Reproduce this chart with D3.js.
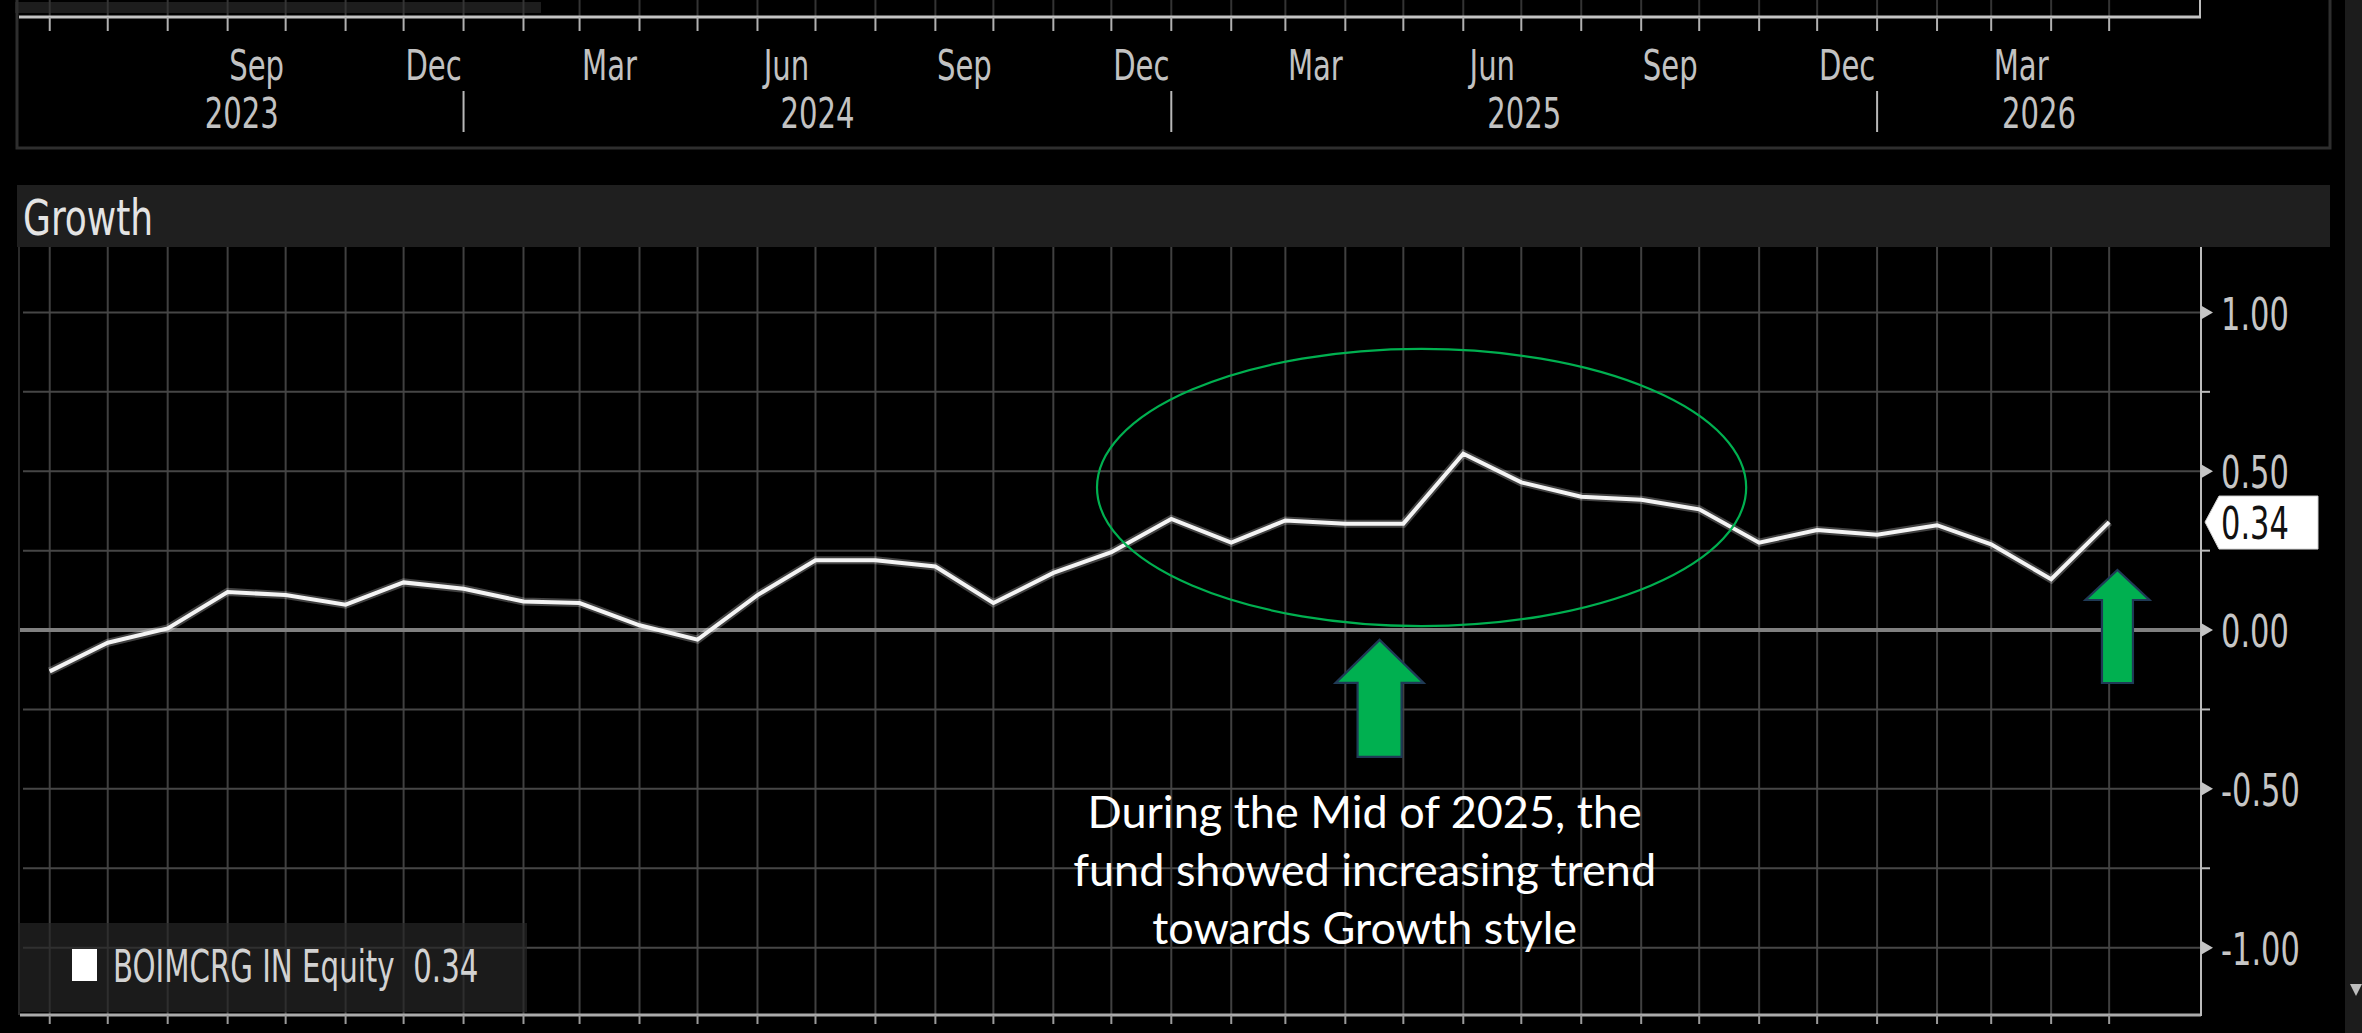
<!DOCTYPE html>
<html>
<head>
<meta charset="utf-8">
<script src="https://cdn.jsdelivr.net/npm/d3@7"></script>
<style>
html,body{margin:0;padding:0;background:#000;overflow:hidden;}
svg{display:block;}
.bb{font-family:"Liberation Sans Narrow","Arial Narrow","DejaVu Sans Condensed",sans-serif;}
.note{font-family:Lato,"Open Sans",sans-serif;}
</style>
</head>
<body>
<svg id="chart" width="2362" height="1033"></svg>
<script>
// ---------------- DATA ----------------
const dates = [
  "2023-06-01","2023-07-01","2023-08-01","2023-09-01","2023-10-01","2023-11-01","2023-12-01",
  "2024-01-01","2024-02-01","2024-03-01","2024-04-01","2024-05-01","2024-06-01","2024-07-01",
  "2024-08-01","2024-09-01","2024-10-01","2024-11-01","2024-12-01","2025-01-01","2025-02-01",
  "2025-03-01","2025-04-01","2025-05-01","2025-06-01","2025-07-01","2025-08-01","2025-09-01",
  "2025-10-01","2025-11-01","2025-12-01","2026-01-01","2026-02-01","2026-03-01","2026-04-01",
  "2026-05-01"
];
const growth = [
  -0.13, -0.04, 0.005, 0.12, 0.11, 0.08, 0.15,
   0.13,  0.09, 0.085, 0.015, -0.03, 0.11, 0.22,
   0.22,  0.20, 0.085, 0.18, 0.245, 0.35, 0.275,
   0.345, 0.335, 0.335, 0.555, 0.465, 0.42, 0.41,
   0.38,  0.275, 0.315, 0.30, 0.33, 0.27, 0.16,
   0.34
];
const yGridValues  = [-1, -0.75, -0.5, -0.25, 0, 0.25, 0.5, 0.75, 1];
const yLabelValues = [-1, -0.5, 0, 0.5, 1];
const monthLabelDates = ["2023-09-01","2023-12-01","2024-03-01","2024-06-01","2024-09-01",
  "2024-12-01","2025-03-01","2025-06-01","2025-09-01","2025-12-01","2026-03-01"];
const yearLabels = ["2023","2024","2025","2026"];
const panelTitle = "Growth";
const seriesName = "BOIMCRG IN Equity";
const noteLines = ["During the Mid of 2025, the","fund showed increasing trend","towards Growth style"];
// annotation anchors in data space
const ellipseDates = ["2024-11-23T14:00:00Z","2025-10-25T07:00:00Z"];
const ellipseValues = [0.885, 0.0126];
const arrowTips = [
  {date:"2025-04-18T17:00:00Z", value:-0.031, headHalf:44, shaftHalf:22, headLen:43, len:117},
  {date:"2026-05-05T07:00:00Z", value:0.189, headHalf:32, shaftHalf:15.5, headLen:30, len:113}
];
const noteAnchor = {date:"2025-04-11T00:00:00Z", value:-0.622};

// ---------------- SETUP ----------------
const W = 2362, H = 1033;
const plot = {left:20, right:2201, top:247, bottom:1015};
const parse = d3.utcParse("%Y-%m-%d");
const series = dates.map((d,i)=>({date:parse(d), v:growth[i]}));
const lastDate = series[series.length-1].date;
const lastVal = series[series.length-1].v;

const x = d3.scaleUtc()
  .domain([new Date(Date.UTC(2023,4,16,15)), new Date(Date.UTC(2026,5,17,12))])
  .range([plot.left, plot.right]);
const y = d3.scaleLinear().domain([-1.212, 1.206]).range([plot.bottom, plot.top]);

const months = d3.utcMonth.range(d3.utcMonth.ceil(x.domain()[0]), d3.utcDay.offset(lastDate,1));
const fmt2 = d3.formatLocale({decimal:".", thousands:",", grouping:[3], currency:["",""], minus:"-"}).format(".2f");
const SX = 0.77; // condense factor for terminal font

const svg = d3.select("#chart");
svg.append("rect").attr("width",W).attr("height",H).attr("fill","#000");

function ctext(parent, px, py, str, size, anchor, fill, base, sx){
  const g = parent.append("g").attr("transform",`translate(${px},${py}) scale(${sx||SX},1)`);
  const t = g.append("text").attr("class","bb").attr("x",0).attr("y",0)
    .attr("font-size",size).attr("text-anchor",anchor||"start").attr("fill",fill)
    .text(str);
  if(base) t.attr("dominant-baseline",base);
  return t;
}

// ---------------- TOP (cut-off) PANEL ----------------
const topG = svg.append("g");
topG.append("rect").attr("x",15).attr("y",2).attr("width",526).attr("height",11).attr("fill","#1d1d1d");
topG.selectAll("line.tg").data(months).join("line")
  .attr("x1",d=>x(d)).attr("x2",d=>x(d)).attr("y1",0).attr("y2",16)
  .attr("stroke","#343434").attr("stroke-width",2);
topG.append("line").attr("x1",2200).attr("x2",2200).attr("y1",0).attr("y2",17)
  .attr("stroke","#bdbdbd").attr("stroke-width",2);
topG.append("line").attr("x1",19).attr("x2",2201).attr("y1",17).attr("y2",17)
  .attr("stroke","#c4c4c4").attr("stroke-width",3);
topG.selectAll("line.tt").data(months).join("line")
  .attr("x1",d=>x(d)).attr("x2",d=>x(d)).attr("y1",17).attr("y2",31)
  .attr("stroke","#b0b0b0").attr("stroke-width",2);
monthLabelDates.forEach(s=>{
  const d0 = parse(s), d1 = d3.utcMonth.offset(d0,1);
  ctext(topG, (x(d0)+x(d1))/2, 80, d3.utcFormat("%b")(d0), 42, "middle", "#c2c2c2");
});
const years = yearLabels.map(s=>+s);
years.forEach(yr=>{
  const a = Math.max(x(new Date(Date.UTC(yr,0,1))), plot.left);
  const b = Math.min(x(new Date(Date.UTC(yr+1,0,1))), plot.right);
  ctext(topG, (a+b)/2, 128, String(yr), 42, "middle", "#c2c2c2");
  if (yr>years[0]) {
    topG.append("line").attr("x1",a).attr("x2",a).attr("y1",91).attr("y2",132)
      .attr("stroke","#b8b8b8").attr("stroke-width",2);
  }
});
topG.append("path").attr("d","M17,0 V148 H2330 V0").attr("fill","none")
  .attr("stroke","#2e2e2e").attr("stroke-width",3);

// ---------------- TITLE BAR ----------------
svg.append("rect").attr("x",17).attr("y",185).attr("width",2313).attr("height",62).attr("fill","#1f1f1f");
ctext(svg, 23, 235, panelTitle, 50, "start", "#e4e4e4", null, 0.8);

// ---------------- PLOT ----------------
const pg = svg.append("g");
pg.selectAll("line.vg").data(months).join("line")
  .attr("x1",d=>x(d)).attr("x2",d=>x(d)).attr("y1",plot.top).attr("y2",plot.bottom)
  .attr("stroke","#404040").attr("stroke-width",2);
pg.append("line").attr("x1",19).attr("x2",19).attr("y1",plot.top).attr("y2",plot.bottom)
  .attr("stroke","#2a2a2a").attr("stroke-width",2);
pg.selectAll("line.hg").data(yGridValues.filter(v=>v!==0)).join("line")
  .attr("x1",23).attr("x2",plot.right).attr("y1",d=>y(d)).attr("y2",d=>y(d))
  .attr("stroke","#464646").attr("stroke-width",2);
pg.append("line").attr("x1",plot.left).attr("x2",plot.right).attr("y1",y(0)).attr("y2",y(0))
  .attr("stroke","#808080").attr("stroke-width",4);

pg.append("line").attr("x1",plot.left).attr("x2",plot.right).attr("y1",plot.bottom).attr("y2",plot.bottom)
  .attr("stroke","#ababab").attr("stroke-width",3);
pg.selectAll("line.bt").data(months).join("line")
  .attr("x1",d=>x(d)).attr("x2",d=>x(d)).attr("y1",plot.bottom).attr("y2",plot.bottom+9)
  .attr("stroke","#9a9a9a").attr("stroke-width",2);

pg.append("line").attr("x1",plot.right).attr("x2",plot.right).attr("y1",plot.top).attr("y2",plot.bottom+1)
  .attr("stroke","#bcbcbc").attr("stroke-width",2);
yGridValues.forEach(v=>{
  const yy = y(v);
  if (yLabelValues.includes(v)) {
    pg.append("path").attr("d",`M${plot.right},${yy-7} L${plot.right+12},${yy} L${plot.right},${yy+7} Z`)
      .attr("fill","#c4c4c4");
    ctext(pg, 2221, yy+2, fmt2(v), 44, "start", "#c6c6c6", "central");
  } else {
    pg.append("line").attr("x1",plot.right).attr("x2",plot.right+9).attr("y1",yy).attr("y2",yy)
      .attr("stroke","#bcbcbc").attr("stroke-width",2);
  }
});

svg.append("rect").attr("x",18).attr("y",923).attr("width",509).attr("height",89)
  .attr("fill","rgb(38,38,38)").attr("fill-opacity",0.7);
svg.append("rect").attr("x",72).attr("y",949).attr("width",25).attr("height",32).attr("fill","#ffffff");
ctext(svg, 113, 982, seriesName + "\u00a0\u00a0" + fmt2(lastVal), 44, "start", "#d2d2d2", null, 0.74);

const line = d3.line().x(d=>x(d.date)).y(d=>y(d.v));
pg.append("path").datum(series).attr("d",line).attr("fill","none")
  .attr("stroke","#ffffff").attr("stroke-opacity",0.25).attr("stroke-width",8).attr("stroke-linejoin","miter");
pg.append("path").datum(series).attr("d",line).attr("fill","none")
  .attr("stroke","#f4f4f4").attr("stroke-width",4).attr("stroke-linejoin","miter");

const ly = y(lastVal);
svg.append("path")
  .attr("d",`M${plot.right+4},${ly} L${plot.right+18},${ly-26} H2318 V${ly+27} H${plot.right+18} Z`)
  .attr("fill","#ffffff").attr("stroke","#d0d0d0").attr("stroke-width",1);
ctext(svg, 2221, ly+2, fmt2(lastVal), 44, "start", "#111", "central");

svg.append("rect").attr("x",2345).attr("y",0).attr("width",17).attr("height",H).attr("fill","#1c1c1c");
svg.append("path").attr("d","M2350,984 L2362,984 L2356,996 Z").attr("fill","#bdbdbd");

// ---------------- ANNOTATIONS ----------------
const ex0 = x(new Date(ellipseDates[0])), ex1 = x(new Date(ellipseDates[1]));
const ey0 = y(ellipseValues[0]), ey1 = y(ellipseValues[1]);
svg.append("ellipse").attr("cx",(ex0+ex1)/2).attr("cy",(ey0+ey1)/2)
  .attr("rx",(ex1-ex0)/2).attr("ry",(ey1-ey0)/2)
  .attr("fill","none").attr("stroke","#00b050").attr("stroke-width",2.2);

arrowTips.forEach(a=>{
  const tx = x(new Date(a.date)), ty = y(a.value);
  const p = [
    [tx, ty], [tx+a.headHalf, ty+a.headLen], [tx+a.shaftHalf, ty+a.headLen],
    [tx+a.shaftHalf, ty+a.len], [tx-a.shaftHalf, ty+a.len], [tx-a.shaftHalf, ty+a.headLen],
    [tx-a.headHalf, ty+a.headLen]
  ];
  svg.append("path").attr("d","M"+p.map(q=>q.join(",")).join("L")+"Z")
    .attr("fill","#00b050").attr("stroke","#1f3a56").attr("stroke-width",2.2)
    .attr("stroke-linejoin","miter");
});

const nx = x(new Date(noteAnchor.date)), ny = y(noteAnchor.value);
const note = svg.append("text").attr("class","note").attr("fill","#ffffff")
  .attr("font-size",45).attr("text-anchor","middle");
noteLines.forEach((s,i)=>{
  note.append("tspan").attr("x",nx).attr("y",ny + i*58).text(s);
});
</script>
</body>
</html>
